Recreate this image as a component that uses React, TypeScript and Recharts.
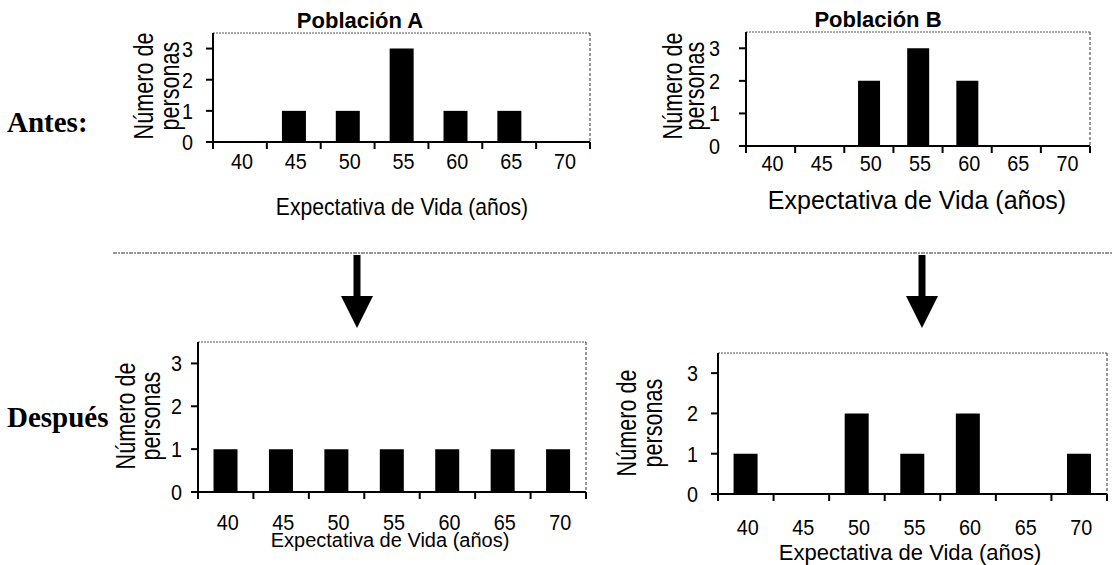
import React from 'react';
import { BarChart, Bar, XAxis, YAxis, ReferenceLine } from 'recharts';

// life expectancy categories (years)
const ages = ['40', '45', '50', '55', '60', '65', '70'];

// number of people per category
const antesA = [0, 1, 1, 3, 1, 1, 0];
const antesB = [0, 0, 2, 3, 2, 0, 0];
const despuesA = [1, 1, 1, 1, 1, 1, 1];
const despuesB = [1, 0, 2, 1, 2, 0, 1];

const yTicks = [0, 1, 2, 3];

const FONT = '"Liberation Sans", Arial, sans-serif';
const SERIF = '"Liberation Serif", "Times New Roman", serif';

type Plot = { x0: number; x1: number; y0: number; y1: number };

type PanelProps = {
  values: number[];
  plot: Plot;
  labelDy: number;
  yGap: number;
};

const Narrow = ({ x, y, children, size, sx = 0.86, anchor = 'middle', weight = 'normal', family = FONT, rotate = 0 }: any) => (
  <text
    transform={`translate(${x},${y}) rotate(${rotate}) scale(${sx},1)`}
    textAnchor={anchor}
    fontSize={size}
    fontWeight={weight}
    fontFamily={family}
    fill="#000"
  >
    {children}
  </text>
);

const Panel = ({ values, plot, labelDy, yGap }: PanelProps) => {
  const data = ages.map((age, i) => ({ age, n: values[i] }));
  const padL = 80;
  const padR = 20;
  const padT = 10;
  const padB = 50;
  const yw = 50;
  const band = (plot.x1 - plot.x0) / ages.length;

  const xTick = (p: any) => {
    const { x, y, payload, index } = p;
    return (
      <g>
        <line x1={x - band / 2} x2={x - band / 2} y1={y} y2={y + 7} stroke="#000" strokeWidth={2} />
        {index === ages.length - 1 && (
          <line x1={x + band / 2} x2={x + band / 2} y1={y} y2={y + 7} stroke="#000" strokeWidth={2} />
        )}
        <Narrow x={x + 2} y={y + labelDy} size={22} sx={0.9}>
          {payload.value}
        </Narrow>
      </g>
    );
  };

  // labels sit a fixed gap left of the axis line (chart coords: axis at padL)
  const yTick = (p: any) => (
    <Narrow x={padL - yGap} y={p.y + 8} size={22} sx={0.9} anchor="end">
      {p.payload.value}
    </Narrow>
  );

  return (
    <div style={{ position: 'absolute', left: plot.x0 - padL, top: plot.y0 - padT }}>
      <BarChart
        width={plot.x1 - plot.x0 + padL + padR}
        height={plot.y1 - plot.y0 + padT + padB}
        data={data}
        margin={{ left: padL - yw, right: padR - 1, top: padT, bottom: 0 }}
        barCategoryGap="28%"
      >
        <XAxis
          dataKey="age"
          height={padB}
          interval={0}
          tickSize={0}
          tickMargin={0}
          tickLine={false}
          axisLine={{ stroke: '#000', strokeWidth: 2 }}
          tick={xTick}
        />
        <YAxis
          domain={[0, 3.5]}
          ticks={yTicks}
          width={yw}
          tickSize={7}
          tickLine={{ stroke: '#000', strokeWidth: 2 }}
          axisLine={{ stroke: '#000', strokeWidth: 2 }}
          tick={yTick}
        />
        <YAxis
          yAxisId="edge"
          orientation="right"
          width={1}
          domain={[0, 3.5]}
          tick={false}
          tickLine={false}
          axisLine={{ stroke: '#333', strokeDasharray: '3 2' }}
        />
        <ReferenceLine y={3.5} stroke="#555" strokeDasharray="2 1" />
        <Bar dataKey="n" fill="#000" isAnimationActive={false} />
      </BarChart>
    </div>
  );
};

const YLabel = ({ x1, x2, cy }: { x1: number; x2: number; cy: number }) => (
  <>
    <Narrow x={x1} y={cy} size={27} sx={0.8} rotate={-90}>
      Número de
    </Narrow>
    <Narrow x={x2} y={cy} size={27} sx={0.8} rotate={-90}>
      personas
    </Narrow>
  </>
);

const Arrow = ({ cx, top }: { cx: number; top: number }) => (
  <g fill="#000">
    <rect x={cx - 3.5} y={top} width={7} height={297 - top} />
    <polygon points={`${cx - 16},296 ${cx + 16},296 ${cx},328`} />
  </g>
);

export default function App() {
  return (
    <div style={{ position: 'absolute', left: 0, top: 0, width: 1113, height: 565, background: '#fff', overflow: 'hidden' }}>
      <Panel values={antesA} plot={{ x0: 213, x1: 590, y0: 33, y1: 142 }} labelDy={27} yGap={20} />
      <Panel values={antesB} plot={{ x0: 746, x1: 1090, y0: 32, y1: 146 }} labelDy={25} yGap={26} />
      <Panel values={despuesA} plot={{ x0: 198, x1: 586, y0: 342, y1: 492 }} labelDy={38} yGap={16} />
      <Panel values={despuesB} plot={{ x0: 718, x1: 1107, y0: 353, y1: 494 }} labelDy={41} yGap={20} />

      <svg width={1113} height={565} style={{ position: 'absolute', left: 0, top: 0, pointerEvents: 'none' }}>
        <Narrow x={360} y={28} size={22} sx={1} weight="bold">Población A</Narrow>
        <Narrow x={878} y={27} size={22} sx={1} weight="bold">Población B</Narrow>

        <Narrow x={402} y={215} size={23} sx={0.92}>Expectativa de Vida (años)</Narrow>
        <Narrow x={917} y={209} size={25} sx={1}>Expectativa de Vida (años)</Narrow>
        <Narrow x={390} y={547} size={20} sx={1}>Expectativa de Vida (años)</Narrow>
        <Narrow x={910} y={560} size={22} sx={1}>Expectativa de Vida (años)</Narrow>

        <YLabel x1={153} x2={179} cy={86} />
        <YLabel x1={682} x2={704} cy={86} />
        <YLabel x1={135} x2={160} cy={416} />
        <YLabel x1={636} x2={662} cy={423} />

        <Narrow x={7} y={132} size={29} sx={1} anchor="start" weight="bold" family={SERIF}>Antes:</Narrow>
        <Narrow x={7} y={427} size={29} sx={1} anchor="start" weight="bold" family={SERIF}>Después</Narrow>

        <line x1={113} x2={1113} y1={253} y2={253} stroke="#333" strokeWidth={1.2} strokeDasharray="4 1 2 1" />
        <Arrow cx={357} top={255} />
        <Arrow cx={922} top={255} />
      </svg>
    </div>
  );
}
